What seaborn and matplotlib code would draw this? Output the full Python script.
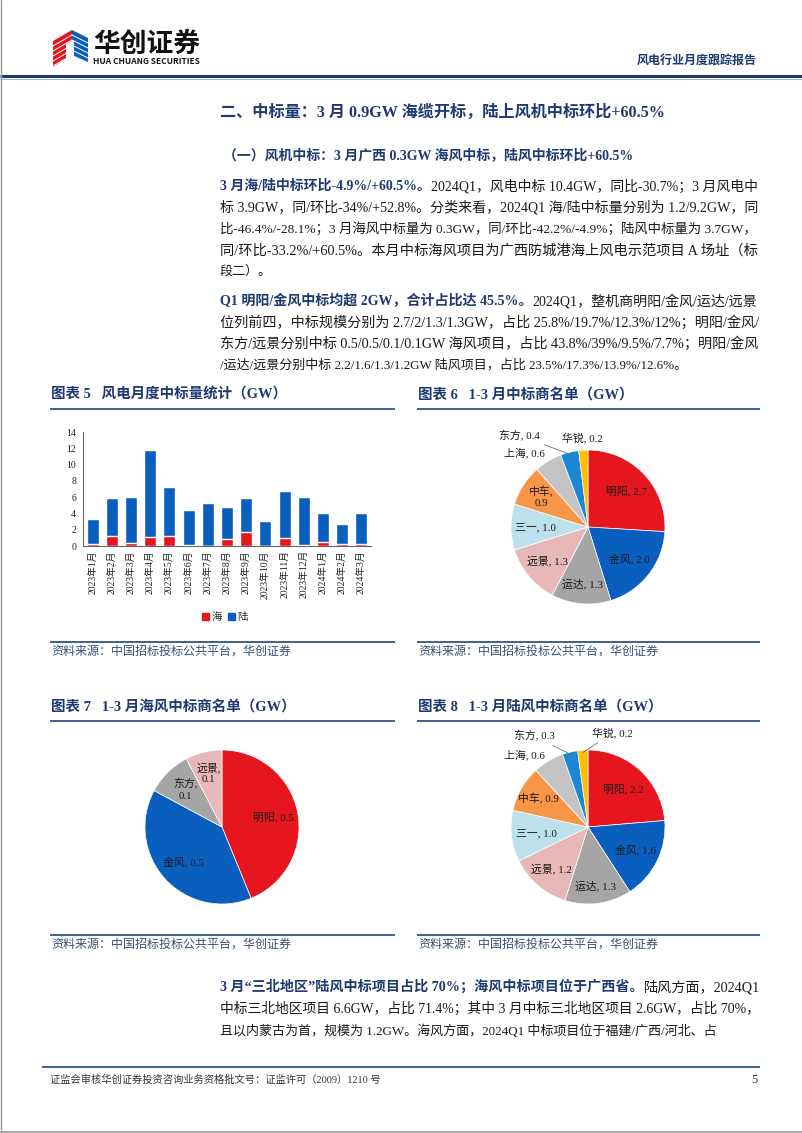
import matplotlib
matplotlib.use("Agg")
import matplotlib.pyplot as plt
import numpy as np
import pandas as pd
import seaborn as sns
from matplotlib.patches import Polygon
from matplotlib.lines import Line2D
from matplotlib.patches import Patch

# ---------------- data ----------------
months = ["2023年1月", "2023年2月", "2023年3月", "2023年4月", "2023年5月", "2023年6月",
          "2023年7月", "2023年8月", "2023年9月", "2023年10月", "2023年11月", "2023年12月",
          "2024年1月", "2024年2月", "2024年3月"]
sea_gw = [0.2, 1.25, 0.4, 1.05, 1.2, 0.1, 0.0, 0.9, 1.75, 0.0, 1.0, 0.1, 0.5, 0.3, 0.3]
land_gw = [3.1, 4.7, 5.65, 10.7, 6.05, 4.3, 5.25, 3.95, 4.2, 3.05, 5.8, 5.9, 3.5, 2.4, 3.7]
y_ticks = [0, 2, 4, 6, 8, 10, 12, 14]

all_names = ["明阳", "金风", "运达", "远景", "三一", "中车", "上海", "东方", "华锐"]
all_vals = [2.7, 2.0, 1.3, 1.3, 1.0, 0.9, 0.6, 0.4, 0.2]
sea_names = ["明阳", "金风", "东方", "远景"]
sea_vals = [0.526, 0.468, 0.114, 0.092]
land_names = ["明阳", "金风", "运达", "远景", "三一", "中车", "上海", "东方", "华锐"]
land_vals = [2.2, 1.6, 1.3, 1.2, 1.0, 0.9, 0.6, 0.3, 0.2]

title = "二、中标量：3 月 0.9GW 海缆开标，陆上风机中标环比+60.5%"
subtitle = "（一）风机中标：3 月广西 0.3GW 海风中标，陆风中标环比+60.5%"
para1 = [
    [("3 月海/陆中标环比-4.9%/+60.5%。", True), ("2024Q1，风电中标 10.4GW，同比-30.7%；3 月风电中", False)],
    [("标 3.9GW，同/环比-34%/+52.8%。分类来看，2024Q1 海/陆中标量分别为 1.2/9.2GW，同", False)],
    [("比-46.4%/-28.1%；3 月海风中标量为 0.3GW，同/环比-42.2%/-4.9%；陆风中标量为 3.7GW，", False)],
    [("同/环比-33.2%/+60.5%。本月中标海风项目为广西防城港海上风电示范项目 A 场址（标", False)],
    [("段二）。", False)],
]
para2 = [
    [("Q1 明阳/金风中标均超 2GW，合计占比达 45.5%。", True), ("2024Q1，整机商明阳/金风/运达/远景", False)],
    [("位列前四，中标规模分别为 2.7/2/1.3/1.3GW，占比 25.8%/19.7%/12.3%/12%；明阳/金风/", False)],
    [("东方/远景分别中标 0.5/0.5/0.1/0.1GW 海风项目，占比 43.8%/39%/9.5%/7.7%；明阳/金风", False)],
    [("/运达/远景分别中标 2.2/1.6/1.3/1.2GW 陆风项目，占比 23.5%/17.3%/13.9%/12.6%。", False)],
]
para3 = [
    [("3 月“三北地区”陆风中标项目占比 70%；海风中标项目位于广西省。", True), ("陆风方面，2024Q1", False)],
    [("中标三北地区项目 6.6GW，占比 71.4%；其中 3 月中标三北地区项目 2.6GW，占比 70%，", False)],
    [("且以内蒙古为首，规模为 1.2GW。海风方面，2024Q1 中标项目位于福建/广西/河北、占", False)],
]
source = "资料来源：中国招标投标公共平台，华创证券"
footer = "证监会审核华创证券投资咨询业务资格批文号：证监许可（2009）1210 号"

# ---------------- style ----------------
sns.set_theme(style="white")
SERIF = ["Liberation Serif", "Noto Sans CJK SC"]
SANS = ["Noto Sans CJK SC", "DejaVu Sans"]
plt.rcParams["font.family"] = SERIF
plt.rcParams["axes.unicode_minus"] = False

NAVY = "#1F3A70"
INK = "#1A1A1A"
LINEBLUE = "#3E5F8E"
RED = "#E5161E"
BLUE = "#0A5FBE"
maker_colors = {"明阳": RED, "金风": BLUE, "运达": "#A5A5A5", "远景": "#E8B7B8",
                "三一": "#BCE0EC", "中车": "#F79646", "上海": "#C3C3C3",
                "东方": "#1C88D5", "华锐": "#FFC000"}

W, H = 802, 1133
fig = plt.figure(figsize=(W / 100, H / 100), dpi=100)
bg = fig.add_axes([0, 0, 1, 1])
bg.set_xlim(0, W)
bg.set_ylim(H, 0)
bg.axis("off")
renderer = fig.canvas.get_renderer()


def txt(x, y, s, size, bold=False, color=INK, ha="left", family=None, style="normal"):
    return bg.text(x, y, s, fontsize=size, fontweight="bold" if bold else "normal",
                   color=color, ha=ha, va="center", family=family or SERIF, style=style)


def rich_line(x, y, parts, size, target=None, lo=0.85, hi=1.15, bold_color=NAVY, color=INK):
    def render(sz):
        objs, cur = [], x
        for s, b in parts:
            t = txt(cur, y, s, sz, bold=b, color=bold_color if b else color)
            cur += t.get_window_extent(renderer).width
            objs.append(t)
        return objs, cur - x
    objs, w = render(size)
    if target:
        k = min(max(target / w, lo), hi)
        for o in objs:
            o.remove()
        objs, w = render(size * k)
    return objs


def fit_size(s, size, target, bold=False, family=None):
    t = txt(0, -100, s, size, bold=bold, family=family)
    w = t.get_window_extent(renderer).width
    t.remove()
    return size * target / w


def hline(x0, x1, y, lw, color):
    bg.add_line(Line2D([x0, x1], [y, y], lw=lw, color=color, solid_capstyle="butt"))


# ---------------- header ----------------
bg.add_patch(Polygon([(53, 41), (72, 30), (72, 55), (53, 67)], closed=True, color=RED, lw=0))
for k in range(1, 6):
    yy = 30 + k * 5
    bg.add_line(Line2D([53, 72], [yy + 11, yy], lw=0.7, color="white"))
bg.add_patch(Polygon([(72, 30), (88, 38), (88, 62), (72, 55)], closed=True, color=BLUE, lw=0))
for k in range(1, 5):
    yy = 38 + k * 5
    bg.add_line(Line2D([72, 88], [yy - 8, yy], lw=0.7, color="white"))
bg.add_patch(Polygon([(66, 44), (74, 40), (74, 58), (66, 62)], closed=True, color="white", lw=0))

txt(93, 44, "华创证券", fit_size("华创证券", 18, 107, bold=True, family=SANS), bold=True,
    color="#111111", family=SANS)
txt(93, 62, "HUA CHUANG SECURITIES", fit_size("HUA CHUANG SECURITIES", 6, 107, bold=True, family=SANS),
    bold=True, color="#111111", family=SANS)
txt(757, 62, "风电行业月度跟踪报告", fit_size("风电行业月度跟踪报告", 8.5, 120, bold=True),
    bold=True, color=NAVY, ha="right")
hline(0, W, 76, 2.2, "#1F3864")
hline(0, W, 79, 0.6, "#8EA6C6")
bg.add_line(Line2D([1, 1], [0, H], lw=1, color="#9A9A9A"))
hline(0, W, H - 1.5, 1.2, "#9A9A9A")

# ---------------- headings & paragraphs ----------------
txt(220, 113, title, fit_size(title, 11, 445, bold=True), bold=True, color=NAVY)
txt(223, 155, subtitle, fit_size(subtitle, 9.5, 414, bold=True), bold=True, color=NAVY)

BODY = 9.4
LEFT, RIGHT = 220, 757


def paragraph(lines, ys):
    for i, (parts, y) in enumerate(zip(lines, ys)):
        last = i == len(lines) - 1
        rich_line(LEFT, y, parts, BODY, target=None if last else RIGHT - LEFT)


paragraph(para1, [186, 207.5, 229, 250.5, 272])
paragraph(para2, [301, 322.5, 344, 365.5])
paragraph(para3, [987, 1009, 1031])

# chart headers, rules and sources
hdr5 = "图表 5   风电月度中标量统计（GW）"
HDR = fit_size(hdr5, 10, 236, bold=True)
for x0, x1, y, s in [(50, 395, 395, "图表 5   风电月度中标量统计（GW）"),
                     (417, 760, 395, "图表 6   1-3 月中标商名单（GW）"),
                     (50, 395, 707, "图表 7   1-3 月海风中标商名单（GW）"),
                     (417, 760, 707, "图表 8   1-3 月陆风中标商名单（GW）")]:
    txt(x0 + 1, y, s, HDR, bold=True, color=NAVY)
    hline(x0, x1, y + 14, 1.4, LINEBLUE)

SRC = fit_size(source, 8, 241)
for x0, x1, y in [(50, 395, 652), (417, 760, 652), (50, 395, 945), (417, 760, 945)]:
    hline(x0, x1, y - 10, 1.4, LINEBLUE)
    txt(x0 + 1, y, source, SRC, color="#34507A", style="italic")

hline(42, 760, 1067, 1.4, LINEBLUE)
txt(50, 1080, footer, fit_size(footer, 7.5, 330), color="#333333")
txt(757, 1080, "5", 9, color="#333333", ha="right")

# ---------------- chart 5 : stacked bars ----------------
def px_axes(x0, y0, x1, y1):
    return fig.add_axes([x0 / W, 1 - y1 / H, (x1 - x0) / W, (y1 - y0) / H])


ax = px_axes(83, 432, 371, 546)
df = pd.DataFrame({"month": months, "海": sea_gw, "陆": land_gw})
df["total"] = df["海"] + df["陆"]
sns.barplot(data=df, x="month", y="total", order=months, color=BLUE, saturation=1,
            width=0.62, errorbar=None, ax=ax, zorder=2)
sns.barplot(data=df, x="month", y="海", order=months, color=RED, saturation=1,
            width=0.62, errorbar=None, ax=ax, zorder=3)
ax.set_ylim(0, 14)
ax.set_xlim(-0.5, len(months) - 0.5)
ax.set_yticks(y_ticks)
ax.set_yticklabels([str(v) for v in y_ticks], fontsize=7, family=SERIF)
ax.set_xticks(range(len(months)))
ax.set_xticklabels(months, rotation=90, fontsize=7, family=SERIF)
ax.set_xlabel("")
ax.set_ylabel("")
ax.set_facecolor("none")
sns.despine(ax=ax)
for sp in ("left", "bottom"):
    ax.spines[sp].set_color("#666666")
    ax.spines[sp].set_linewidth(0.8)
ax.tick_params(axis="y", length=3, width=0.6, color="#666666", pad=2, labelcolor="#222222")
ax.tick_params(axis="x", length=0, pad=3, labelcolor="#222222")
ax.set_xticks(np.arange(-0.5, len(months), 1), minor=True)
ax.tick_params(axis="x", which="minor", length=3, width=0.6, color="#666666")
ax.grid(False)
handles = [Patch(color=RED, label="海"), Patch(color=BLUE, label="陆")]
fig.legend(handles=handles, loc="center", bbox_to_anchor=(225 / W, 1 - 617 / H), ncol=2,
           frameon=False, handlelength=0.7, handleheight=0.7, handletextpad=0.2,
           columnspacing=0.6, prop={"family": SERIF, "size": 7.5})


# ---------------- pies ----------------
def draw_pie(cx, cy, r, names, vals, colors, d_in=0.68, overrides=None, wrap=()):
    overrides = overrides or {}
    span = 1.6
    a = px_axes(cx - span * r, cy - span * r, cx + span * r, cy + span * r)
    wedges, _ = a.pie(vals, colors=colors, startangle=90, counterclock=False, radius=1,
                      wedgeprops=dict(edgecolor="white", linewidth=0.5))
    a.set_xlim(-span, span)
    a.set_ylim(-span, span)
    a.set_aspect("equal")
    a.axis("off")
    for w, n, v in zip(wedges, names, vals):
        sep = ",\n" if n in wrap else ", "
        label = f"{n}{sep}{v:.1f}"
        ang = np.deg2rad((w.theta1 + w.theta2) / 2)
        o = overrides.get(n, {})
        if "xytext" in o:
            edge = (0.97 * np.cos(ang), 0.97 * np.sin(ang))
            a.annotate(label, xy=edge, xytext=o["xytext"], ha=o.get("ha", "center"), va="center",
                       fontsize=7.8, color=INK, family=SERIF,
                       arrowprops=dict(arrowstyle="-", color="#707070", lw=0.6,
                                       shrinkA=1, shrinkB=0))
        elif "at" in o:
            a.text(*o["at"], label, ha="center", va="center", fontsize=7.8, color=INK,
                   family=SERIF, linespacing=1.3)
        else:
            d = o.get("d", d_in)
            a.text(d * np.cos(ang), d * np.sin(ang), label, ha="center", va="center",
                   fontsize=7.8, color=INK, family=SERIF, linespacing=1.3)
    return a


draw_pie(588, 527, 77, all_names, all_vals, [maker_colors[n] for n in all_names],
         overrides={"上海": {"at": (-0.82, 0.96)}, "华锐": {"d": 1.16},
                    "运达": {"d": 0.74}, "中车": {"d": 0.72},
                    "东方": {"xytext": (-0.62, 1.19), "ha": "right"}},
         wrap=("中车",))

sea_cols = [maker_colors[n] for n in sea_names]
sea_cols[sea_names.index("东方")] = "#A5A5A5"
draw_pie(222, 827, 77, sea_names, sea_vals, sea_cols, d_in=0.68, wrap=("东方", "远景"),
         overrides={"远景": {"d": 0.72}})

draw_pie(588, 827, 77, land_names, land_vals, [maker_colors[n] for n in land_names],
         overrides={"上海": {"at": (-0.82, 0.94)}, "运达": {"d": 0.77}, "中车": {"d": 0.74},
                    "远景": {"d": 0.72},
                    "东方": {"xytext": (-0.43, 1.18), "ha": "right"},
                    "华锐": {"xytext": (0.05, 1.22), "ha": "left"}})

fig.savefig("out.png", dpi=100)
